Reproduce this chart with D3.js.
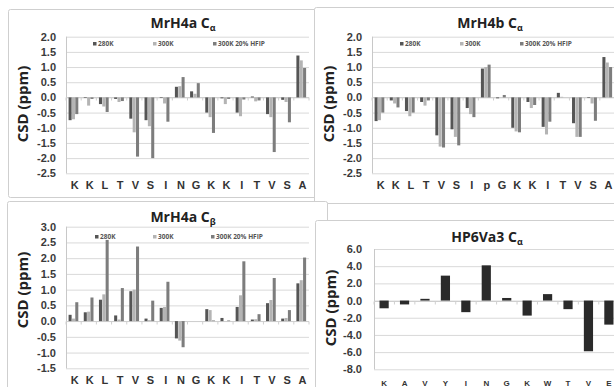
<!DOCTYPE html>
<html>
<head>
<meta charset="utf-8">
<script src="https://cdn.jsdelivr.net/npm/d3@7"></script>
<style>
  html, body { margin: 0; padding: 0; background: #fff; }
  svg { display: block; font-family: "Open Sans", "Liberation Sans", sans-serif; }
</style>
</head>
<body>
<svg id="fig" width="614" height="387"></svg>
<script>
// Residue sequences
const residuesH4a = ["K","K","L","T","V","S","I","N","G","K","K","I","T","V","S","A"];
const residuesH4b = ["K","K","L","T","V","S","I","p","G","K","K","I","T","V","S","A"];
const residuesHP6 = ["K","A","V","Y","I","N","G","K","W","T","V","E"];

// Series names
const seriesNames = ["280K", "300K", "300K 20% HFIP"];

// MrH4a C-alpha chemical shift deviations (ppm)
const h4aCa280 = [-0.75,-0.02,-0.22,-0.05,-0.70,-0.75,-0.02, 0.35, 0.20,-0.50,-0.03,-0.50, 0.03,-0.55,-0.08, 1.38];
const h4aCa300 = [-0.72,-0.27,-0.30,-0.15,-1.15,-0.95,-0.20, 0.37, 0.12,-0.65,-0.22,-0.62,-0.13,-0.65,-0.15, 1.22];
const h4aCaHfip = [-0.55,-0.05,-0.48,-0.12,-1.95,-2.00,-0.80, 0.67, 0.47,-1.17,-0.05,-0.07,-0.10,-1.80,-0.82, 0.97];

// MrH4b C-alpha
const h4bCa280 = [-0.78,-0.10,-0.45,-0.15,-1.25,-1.05,-0.35, 0.95,-0.03,-1.00,-0.15,-0.97, 0.15,-0.85,-0.02, 1.33];
const h4bCa300 = [-0.75,-0.20,-0.62,-0.27,-1.62,-1.30,-0.55, 1.00, 0.00,-1.12,-0.35,-1.22, 0.02,-1.30,-0.20, 1.15];
const h4bCaHfip = [-0.50,-0.33,-0.50,-0.10,-1.65,-1.58,-0.65, 1.08, 0.08,-1.15,-0.25,-0.80, 0.00,-1.30,-0.77, 1.00];

// MrH4a C-beta
const h4aCb280 = [0.20,0.28,0.68,0.18,0.95,0.08,0.42,-0.55,0.00,0.38,0.10,0.45,0.05,0.57,0.08,1.20];
const h4aCb300 = [0.08,0.30,0.85,0.05,1.00,0.03,0.45,-0.62,0.00,0.35,0.00,0.82,0.06,0.67,0.10,1.30];
const h4aCbHfip = [0.60,0.75,2.58,1.05,2.37,0.65,1.25,-0.83,0.00,0.02,0.02,1.90,0.22,1.37,0.35,2.02];

// HP6Va3 C-alpha
const hp6Ca = [-0.90,-0.45,0.20,2.90,-1.35,4.10,0.30,-1.75,0.75,-1.00,-5.90,-2.80];

// Axis ticks
const ticksCa = [2.0,1.5,1.0,0.5,0.0,-0.5,-1.0,-1.5,-2.0,-2.5];
const ticksCb = [3.0,2.5,2.0,1.5,1.0,0.5,0.0,-0.5,-1.0,-1.5];
const ticksHP6 = [6.0,4.0,2.0,0.0,-2.0,-4.0,-6.0,-8.0];

const seriesColors = ["#555555", "#b4b4b4", "#7d7d7d"];
const fmt = d => d3.format(".1f")(d).replace("\u2212", "-");

const svg = d3.select("#fig");

// Panel frames
const frames = [
  {x: 8, y: 9, w: 320, h: 188},
  {x: 314, y: 7, w: 320, h: 196},
  {x: 7, y: 201, w: 320, h: 200},
  {x: 315, y: 220, w: 320, h: 180}
];
svg.selectAll("rect.frame").data(frames).join("rect")
  .attr("class", "frame")
  .attr("x", d => d.x + 0.5).attr("y", d => d.y + 0.5)
  .attr("width", d => d.w).attr("height", d => d.h)
  .attr("rx", 2)
  .attr("fill", "#fff").attr("stroke", "#cfcfcf").attr("stroke-width", 1);

function drawPanel(cfg) {
  const g = svg.append("g");
  const y = d3.scaleLinear().domain(cfg.yDomain).range(cfg.yRange);
  const x = d3.scaleBand().domain(d3.range(cfg.cats.length))
    .range(cfg.xRange).paddingInner(cfg.padIn).paddingOuter(cfg.padOut);
  const left = cfg.xRange[0], right = cfg.xRange[1];

  // gridlines
  g.append("g")
    .attr("transform", `translate(${left},0)`)
    .call(d3.axisLeft(y).tickValues(cfg.ticks).tickSize(-(right - left)).tickFormat(""))
    .call(a => a.select(".domain").remove())
    .call(a => a.selectAll("line").attr("stroke", "#d9d9d9").attr("stroke-width", 1));

  // vertical axis line
  g.append("line")
    .attr("x1", left + 0.5).attr("x2", left + 0.5)
    .attr("y1", cfg.yRange[1]).attr("y2", cfg.yRange[0])
    .attr("stroke", "#c8c8c8");

  // tick labels
  g.append("g")
    .attr("transform", `translate(${cfg.tickRight},0)`)
    .call(d3.axisLeft(y).tickValues(cfg.ticks).tickSize(0).tickPadding(0).tickFormat(fmt))
    .call(a => a.select(".domain").remove())
    .call(a => a.selectAll("text")
      .attr("fill", "#3a3a3a").attr("font-size", cfg.tickFont)
      .attr("font-weight", "bold"));

  // category axis at zero, with small tick marks between categories
  const y0 = Math.round(y(0)) + 0.5;
  g.append("line")
    .attr("x1", left).attr("x2", right)
    .attr("y1", y0).attr("y2", y0)
    .attr("stroke", "#cfcfcf");
  const step = x.step();
  g.selectAll("line.ctick").data(d3.range(cfg.cats.length + 1)).join("line")
    .attr("class", "ctick")
    .attr("x1", i => left + i * step).attr("x2", i => left + i * step)
    .attr("y1", y0).attr("y2", y0 + 3)
    .attr("stroke", "#cfcfcf");

  // bars
  if (cfg.series.length > 1) {
    const xs = d3.scaleBand().domain(d3.range(cfg.series.length)).range([0, x.bandwidth()]);
    cfg.series.forEach((vals, si) => {
      g.selectAll(null).data(vals).join("rect")
        .attr("x", (d, i) => x(i) + xs(si))
        .attr("width", xs.bandwidth() - 0.3)
        .attr("y", d => Math.min(y(d), y(0)))
        .attr("height", d => Math.abs(y(d) - y(0)))
        .attr("fill", seriesColors[si]);
    });
  } else {
    g.selectAll(null).data(cfg.series[0]).join("rect")
      .attr("x", (d, i) => x(i))
      .attr("width", x.bandwidth())
      .attr("y", d => Math.min(y(d), y(0)))
      .attr("height", d => Math.abs(y(d) - y(0)))
      .attr("fill", "#2a2a2a");
  }

  // category labels
  g.append("g")
    .attr("transform", `translate(${cfg.labelDx || 0},${cfg.labelY})`)
    .call(d3.axisBottom(x).tickSize(0).tickPadding(0).tickFormat(i => cfg.cats[i]))
    .call(a => a.select(".domain").remove())
    .call(a => a.selectAll("text")
      .attr("dy", 0)
      .attr("fill", "#333").attr("font-size", cfg.catFont).attr("font-weight", "bold"));

  // title with subscript
  const t = g.append("text")
    .attr("x", cfg.titleX).attr("y", cfg.titleY)
    .attr("text-anchor", "middle")
    .attr("font-size", 14).attr("font-weight", "bold").attr("fill", "#222");
  t.append("tspan").text(cfg.title + " C");
  t.append("tspan").text(cfg.sub).attr("font-size", 9).attr("dy", 3);

  // y label
  g.append("text")
    .attr("transform", `translate(${cfg.ylabX},${cfg.ylabY}) rotate(-90)`)
    .attr("text-anchor", "middle")
    .attr("font-size", 15).attr("font-weight", "bold").attr("fill", "#222")
    .text("CSD (ppm)");

  // legend
  if (cfg.legend) {
    const lg = g.append("g").attr("transform", `translate(0,${cfg.legend.y})`);
    seriesNames.forEach((name, i) => {
      const lx = cfg.legend.xs[i];
      lg.append("rect").attr("x", lx).attr("y", -3).attr("width", 3.5).attr("height", 3.5)
        .attr("fill", seriesColors[i]);
      lg.append("text").attr("x", lx + 5).attr("y", 1)
        .attr("font-size", 6.5).attr("font-weight", "bold").attr("fill", "#555")
        .text(name);
    });
  }
}

drawPanel({
  cats: residuesH4a, series: [h4aCa280, h4aCa300, h4aCaHfip],
  yDomain: [-2.5, 2.0], yRange: [173.3, 36.7], ticks: ticksCa,
  xRange: [66, 309], padIn: 0.34, padOut: 0.17,
  tickRight: 56, tickFont: 11, labelY: 189, catFont: 11, labelDx: 1,
  title: "MrH4a", sub: "\u03b1", titleX: 183, titleY: 28,
  ylabX: 28, ylabY: 104,
  legend: {y: 45, xs: [93, 153, 213]}
});

drawPanel({
  cats: residuesH4b, series: [h4bCa280, h4bCa300, h4bCaHfip],
  yDomain: [-2.5, 2.0], yRange: [173.3, 36.7], ticks: ticksCa,
  xRange: [372, 615], padIn: 0.34, padOut: 0.17,
  tickRight: 362, tickFont: 11, labelY: 189, catFont: 11, labelDx: 1,
  title: "MrH4b", sub: "\u03b1", titleX: 490, titleY: 28,
  ylabX: 334, ylabY: 104,
  legend: {y: 45, xs: [400, 460, 520]}
});

drawPanel({
  cats: residuesH4a, series: [h4aCb280, h4aCb300, h4aCbHfip],
  yDomain: [-1.5, 3.0], yRange: [368.3, 226.7], ticks: ticksCb,
  xRange: [66, 309], padIn: 0.34, padOut: 0.17,
  tickRight: 56, tickFont: 11, labelY: 384, catFont: 11, labelDx: 1,
  title: "MrH4a", sub: "\u03b2", titleX: 183, titleY: 222,
  ylabX: 28, ylabY: 290,
  legend: {y: 238, xs: [95, 153, 211]}
});

drawPanel({
  cats: residuesHP6, series: [hp6Ca],
  yDomain: [-8, 6], yRange: [369.3, 249], ticks: ticksHP6,
  xRange: [374, 619], padIn: 0.55, padOut: 0.27,
  tickRight: 362, tickFont: 11, labelY: 386, catFont: 8, labelDx: 0,
  title: "HP6Va3", sub: "\u03b1", titleX: 487, titleY: 242,
  ylabX: 336, ylabY: 308,
  legend: null
});
</script>
</body>
</html>
